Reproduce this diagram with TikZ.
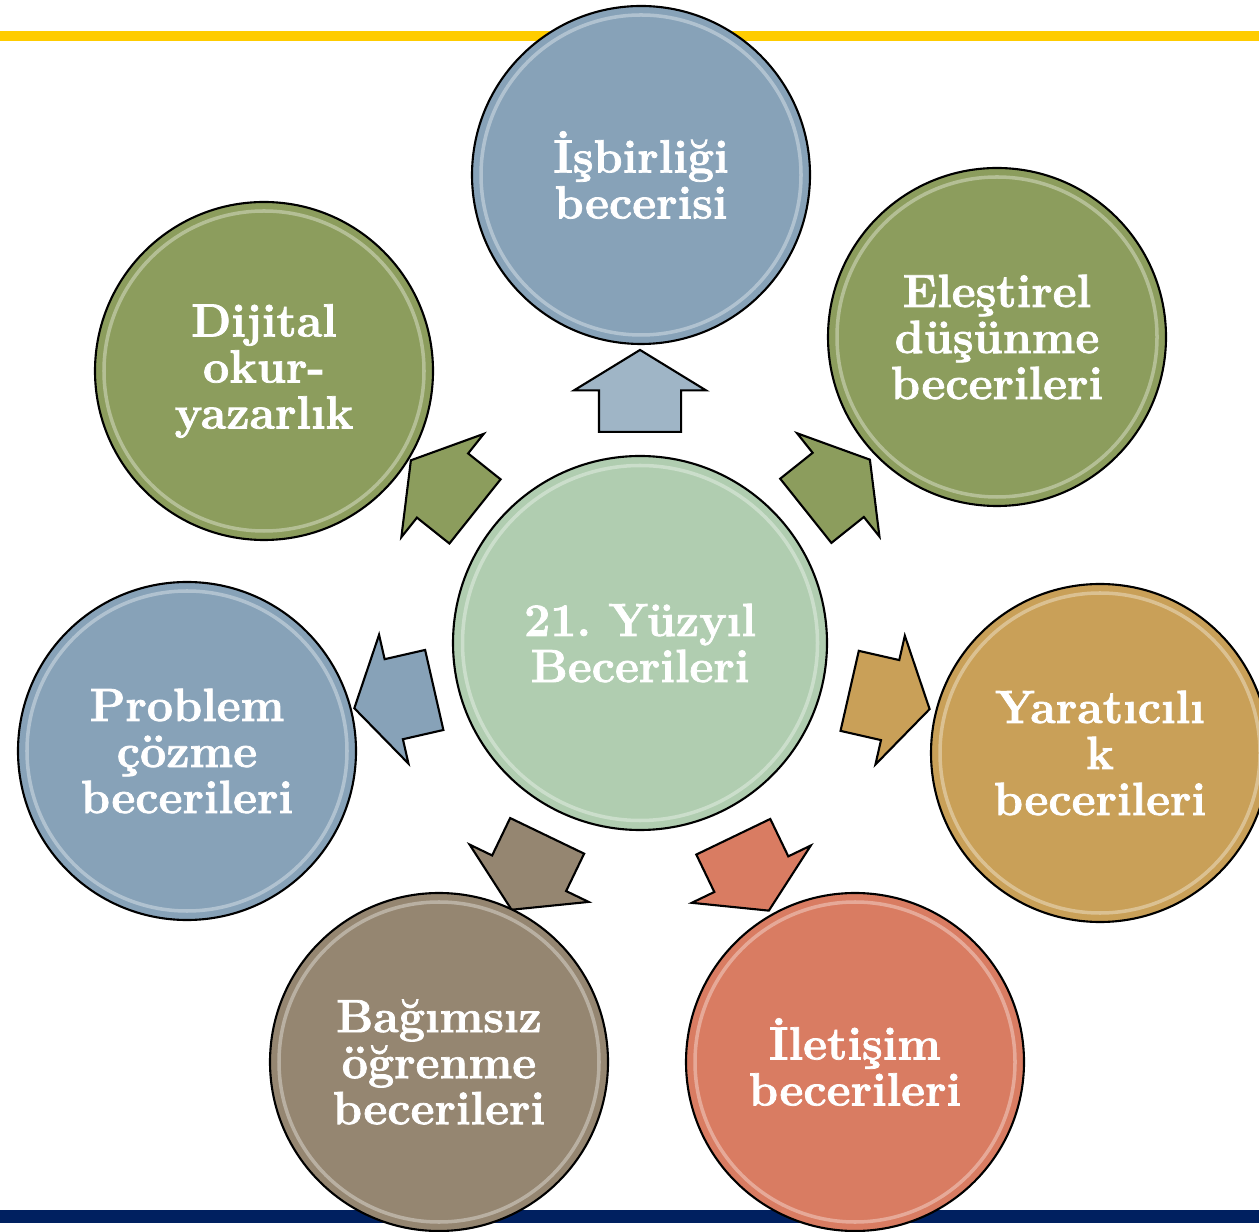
\documentclass[tikz,border=0pt]{standalone}
\usepackage{fontspec}
\setmainfont{Latin Modern Roman}[BoldFeatures={FakeBold=1.6}]
\usepackage{xcolor}
\usepackage{tikz}
\usetikzlibrary{shapes.arrows}

\definecolor{gri}{RGB}{135,162,184}
\definecolor{zeytin}{RGB}{140,157,93}
\definecolor{hardal}{RGB}{201,160,88}
\definecolor{somon}{RGB}{217,124,98}
\definecolor{toprak}{RGB}{149,134,113}
\definecolor{mint}{RGB}{176,205,176}
\definecolor{sari}{RGB}{255,204,0}
\definecolor{lacivert}{RGB}{0,32,96}

\tikzset{
  beceri/.style={circle, draw=black, line width=1.2pt, fill=#1, minimum size=6.76cm,
    inner sep=0pt, align=center, text=white,
    font=\fontsize{26.5}{26.2}\selectfont\bfseries\frenchspacing,
    path picture={\draw[white, opacity=.35, line width=2pt]
      (path picture bounding box.center) circle (3.2cm);}},
  merkez/.style={beceri=#1, minimum size=7.48cm,
    path picture={\draw[white, opacity=.35, line width=2pt]
      (path picture bounding box.center) circle (3.55cm);}},
  ok/.style={single arrow, draw=black, line width=1.2pt, fill=#1, anchor=tail,
    inner xsep=0pt, inner ysep=0.8cm, minimum height=1.64cm,
    single arrow head extend=0.5cm, single arrow tip angle=117}
}

\begin{document}
\begin{tikzpicture}
    \useasboundingbox (0,0) rectangle (25.18,24.62);
    \fill[sari] (0,23.80) rectangle (25.18,24.00);
    \fill[lacivert] (0,0.16) rectangle (25.18,0.42);

    \node[merkez=mint] (c) at (12.80,11.76) {21. Yüzyıl\\Becerileri};

    % oklar
    \node[ok=gri!80!white, rotate=90] (a1) at ([shift={(90:4.20)}]c) {};
    \node[ok=zeytin, rotate=38.57] (a2) at ([shift={(38.57:4.22)}]c) {};
    \node[ok=hardal, rotate=-12.86] (a3) at ([shift={(-12.86:4.28)}]c) {};
    \node[ok=somon, rotate=-64.29] (a4) at ([shift={(-64.29:4.28)}]c) {};
    \node[ok=toprak, rotate=-115.71] (a5) at ([shift={(-115.71:4.26)}]c) {};
    \node[ok=gri, rotate=-167.14] (a6) at ([shift={(-167.14:4.20)}]c) {};
    \node[ok=zeytin, rotate=141.43] (a7) at ([shift={(141.43:4.20)}]c) {};

    % beceriler
    \node[beceri=gri] (s1) at (12.82,21.12) {İşbirliği\\becerisi};
    \node[beceri=zeytin] (s2) at (19.94,17.88) {Eleştirel\\düşünme\\becerileri};
    \node[beceri=hardal] (s3) at (22.00,9.56) {Yaratıcılı\\k\\becerileri};
    \node[beceri=somon] (s4) at (17.10,3.38) {İletişim\\becerileri};
    \node[beceri=toprak] (s5) at (8.78,3.38) {Bağımsız\\öğrenme\\becerileri};
    \node[beceri=gri] (s6) at (3.74,9.60) {Problem\\çözme\\becerileri};
    \node[beceri=zeytin] (s7) at (5.28,17.20) {Dijital\\okur-\\yazarlık};
\end{tikzpicture}
\end{document}
